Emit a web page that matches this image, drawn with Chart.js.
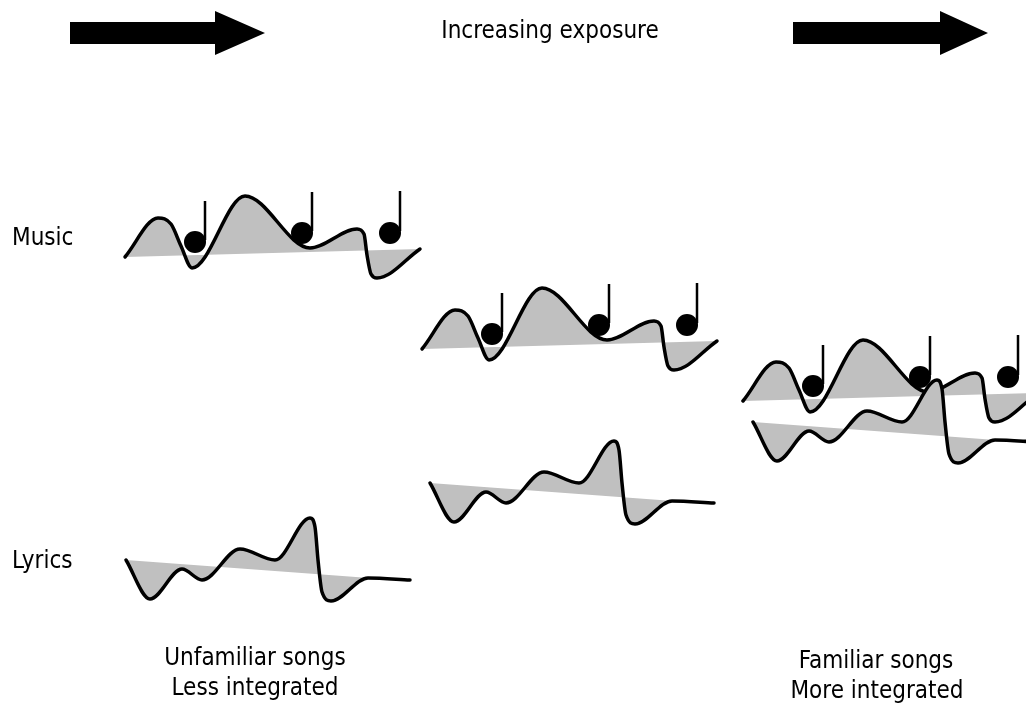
<!DOCTYPE html>
<html>
<head>
<meta charset="utf-8">
<script src="https://cdn.jsdelivr.net/npm/chart.js@4/dist/chart.umd.min.js"></script>
<style>
  html, body { margin: 0; padding: 0; background: #fff; }
  #wrap { width: 1026px; height: 706px; }
</style>
</head>
<body>
<div id="wrap"><canvas id="exposure" width="1026" height="706"></canvas></div>
<script>
const musicWave = [[125,257],[158,218],[171,224],[181,246],[192,268],[245,196],[310,248],[357,229],[364,234],[367,255],[371,274],[377,278],[420,249]];
const musicBase = [[125,257],[420,249]];
const lyricsWave = [[126,560],[150,599],[182,569],[202,580],[240,549],[275,560],[310,518],[315,527],[318,560],[322,592],[331,601],[368,578],[410,580]];
const lyricsBase = [[126,560],[410,581]];

// where each copy sits (stage 1, 2, 3)
const musicShift = [[0,0],[297,92],[618,144]];
const lyricsShift = [[0,0],[304,-77],[627,-138]];

// notes on the music trace
const noteHeads = [[195,242],[302,233],[390,233]];
const noteTops = [201,192,191];

// arrows
const arrowLeft = [[70,22],[215,22],[215,11],[265,33],[215,55],[215,44],[70,44],[70,22]];
const arrowRight = [[793,22],[940,22],[940,11],[988,33],[940,55],[940,44],[793,44],[793,22]];

const labels = [
    { text: "Increasing exposure", x: 550, y: 32, align: "center" },
    { text: "Music", x: 12, y: 239, align: "left" },
    { text: "Lyrics", x: 12, y: 562, align: "left" },
    { text: "Unfamiliar songs", x: 255, y: 659, align: "center" },
    { text: "Less integrated", x: 255, y: 689, align: "center" },
    { text: "Familiar songs", x: 876, y: 662, align: "center" },
    { text: "More integrated", x: 877, y: 692, align: "center" }
];

function pts(arr, dx, dy) {
    return arr.map(p => ({ x: p[0] + dx, y: p[1] + dy }));
}

const GREY = "#c0c0c0";
const datasets = [];

function addTrace(wave, base, shift, order) {
    const idx = datasets.length;
    datasets.push({
        data: pts(base, shift[0], shift[1]),
        showLine: true, borderWidth: 0, borderColor: "rgba(0,0,0,0)",
        pointRadius: 0, order: 9
    });
    datasets.push({
        data: pts(wave, shift[0], shift[1]),
        showLine: true, borderColor: "#000", borderWidth: 3.5,
        backgroundColor: GREY, fill: idx,
        cubicInterpolationMode: "monotone",
        borderJoinStyle: "round", borderCapStyle: "round",
        pointRadius: 0, order: order
    });
}

musicShift.forEach(s => addTrace(musicWave, musicBase, s, 3));
lyricsShift.forEach(s => addTrace(lyricsWave, lyricsBase, s, 2));

musicShift.forEach(s => {
    noteHeads.forEach((h, i) => {
        datasets.push({
            data: [{ x: h[0] + 10 + s[0], y: h[1] + s[1] - 2 }, { x: h[0] + 10 + s[0], y: noteTops[i] + s[1] }],
            showLine: true, borderColor: "#000", borderWidth: 2.5,
            pointRadius: 0, order: 1
        });
    });
    datasets.push({
        data: pts(noteHeads, s[0], s[1]),
        showLine: false, pointRadius: 11, pointBackgroundColor: "#000",
        pointBorderWidth: 0, order: 0
    });
});

[arrowLeft, arrowRight].forEach(a => {
    datasets.push({
        data: pts(a, 0, 0),
        showLine: true, borderWidth: 0, borderColor: "#000",
        backgroundColor: "#000", fill: "shape", tension: 0,
        pointRadius: 0, order: 0
    });
});

const textPlugin = {
    id: "texts",
    afterDatasetsDraw(chart) {
        const ctx = chart.ctx;
        const xs = chart.scales.x, ys = chart.scales.y;
        ctx.save();
        ctx.fillStyle = "#000";
        ctx.font = "24px 'DejaVu Sans Condensed', 'DejaVu Sans', sans-serif";
        ctx.textBaseline = "middle";
        labels.forEach(l => {
            ctx.textAlign = l.align;
            ctx.fillText(l.text, xs.getPixelForValue(l.x), ys.getPixelForValue(l.y));
        });
        ctx.restore();
    }
};

new Chart(document.getElementById("exposure"), {
    type: "scatter",
    data: { datasets: datasets },
    options: {
        responsive: false,
        animation: false,
        devicePixelRatio: 1,
        layout: { padding: 0, autoPadding: false },
        scales: {
            x: { type: "linear", min: 0, max: 1026, display: false },
            y: { type: "linear", min: 0, max: 706, reverse: true, display: false }
        },
        plugins: {
            legend: { display: false },
            tooltip: { enabled: false },
            filler: { drawTime: "beforeDatasetDraw" }
        }
    },
    plugins: [textPlugin]
});
</script>
</body>
</html>
